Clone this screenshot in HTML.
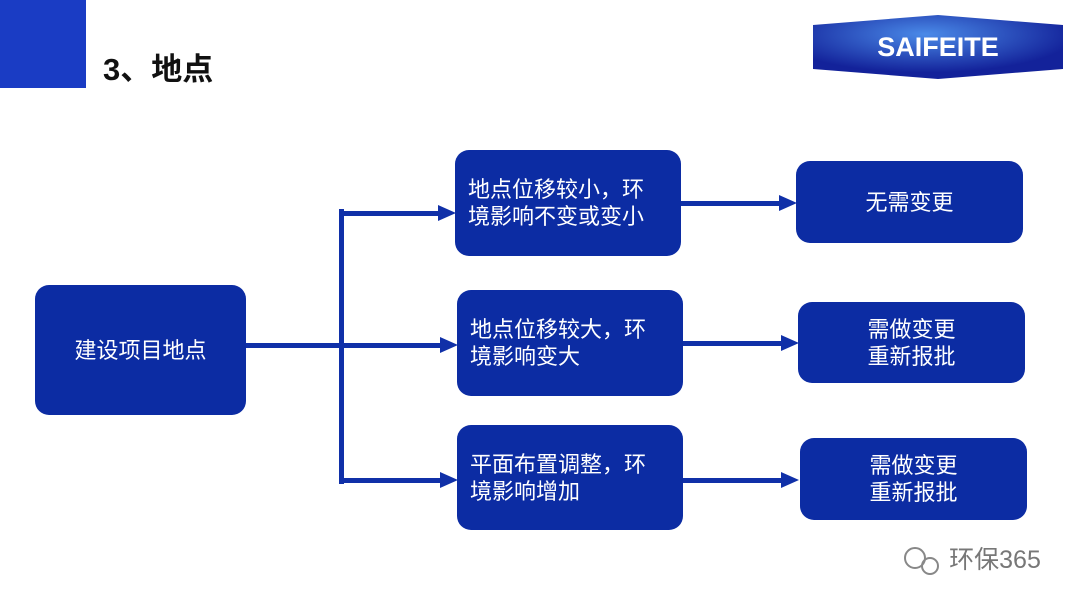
<!DOCTYPE html>
<html><head><meta charset="utf-8"><style>
body{margin:0;width:1080px;height:608px;background:#fff;position:relative;overflow:hidden;font-family:"Liberation Sans","Noto Sans CJK SC",sans-serif}
.b{position:absolute;background:#0c2ca3;border-radius:14px;color:#fff;font-size:22px;line-height:27px;display:flex;align-items:center;box-sizing:border-box}
.c{justify-content:center;text-align:center}
.l{padding-left:13px}
</style></head><body>
<div style="position:absolute;left:0;top:0;width:86px;height:88px;background:#1a3cc4"></div>
<div style="position:absolute;left:103px;top:44px;font-size:31px;font-weight:bold;color:#111">3、地点</div>
<svg style="position:absolute;left:0;top:0" width="1080" height="608">
<defs><radialGradient id="g" cx="0.45" cy="0.3" r="0.6"><stop offset="0" stop-color="#4a8ae8"/><stop offset="1" stop-color="#13229a"/></radialGradient></defs>
<polygon points="813,25 938,15 1063,25 1063,69 938,79 813,69" fill="url(#g)"/>
<text x="938" y="56" text-anchor="middle" font-family="Liberation Sans" font-weight="bold" font-size="27" fill="#fff">SAIFEITE</text>
<g fill="#1030a8" stroke="none">
<rect x="246" y="343" width="96" height="5"/>
<rect x="339" y="209" width="5" height="275"/>
<rect x="342" y="211" width="98" height="5"/>
<polygon points="438,205 456,213 438,221"/>
<rect x="342" y="343" width="100" height="5"/>
<polygon points="440,337 458,345 440,353"/>
<rect x="342" y="478" width="100" height="5"/>
<polygon points="440,472 458,480 440,488"/>
<rect x="681" y="201" width="100" height="5"/>
<polygon points="779,195 797,203 779,211"/>
<rect x="683" y="341" width="100" height="5"/>
<polygon points="781,335 799,343 781,351"/>
<rect x="683" y="478" width="100" height="5"/>
<polygon points="781,472 799,480 781,488"/>
</g>
<text x="995" y="568" text-anchor="middle" font-family="Liberation Sans,Noto Sans CJK SC,sans-serif" font-size="25" fill="#777">环保365</text>
<circle cx="915" cy="558" r="10" fill="none" stroke="#888" stroke-width="2"/><circle cx="930" cy="566" r="8" fill="none" stroke="#888" stroke-width="2"/>
</svg>
<div class="b c" style="left:35px;top:285px;width:211px;height:130px">建设项目地点</div>
<div class="b l" style="left:455px;top:150px;width:226px;height:106px">地点位移较小，环<br>境影响不变或变小</div>
<div class="b l" style="left:457px;top:290px;width:226px;height:106px">地点位移较大，环<br>境影响变大</div>
<div class="b l" style="left:457px;top:425px;width:226px;height:105px">平面布置调整，环<br>境影响增加</div>
<div class="b c" style="left:796px;top:161px;width:227px;height:82px">无需变更</div>
<div class="b c" style="left:798px;top:302px;width:227px;height:81px">需做变更<br>重新报批</div>
<div class="b c" style="left:800px;top:438px;width:227px;height:82px">需做变更<br>重新报批</div>
</body></html>
